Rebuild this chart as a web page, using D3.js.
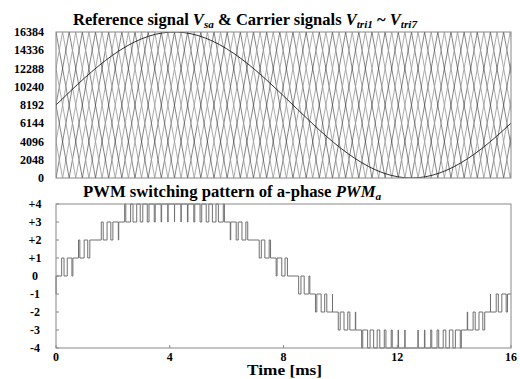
<!DOCTYPE html>
<html><head><meta charset="utf-8">
<script src="https://cdn.jsdelivr.net/npm/d3@7"></script>
<style>
body{margin:0;background:#fff}
svg{display:block}
</style>
</head><body><svg id="c" width="520" height="379" font-family="'Liberation Serif', 'Times New Roman', Times, serif" font-weight="bold"></svg>
<script>
// ---- data ----
const refTimeMs = [0,0.5,1,1.5,2,2.5,3,3.5,4,4.5,5,5.5,6,6.5,7,7.5,8,8.5,9,9.5,10,10.5,11,11.5,12,12.5,13,13.5,14,14.5,15,15.5,16];
const refValue  = [8192,9727,11208,12581,13799,14819,15604,16127,16368,16319,15983,15371,14504,13414,12139,10723,9219,7678,6155,4704,3377,2220,1275,575,145,0,145,575,1275,2220,3377,4704,6155];
const carrierCount = 8;            // phase-shifted triangular carriers
const carrierFreqHz = 540;         // carrier frequency
const carrierMin = 0, carrierMax = 16384;
const carrierColors = ["#333333","#a0a0a0"];
const topTicks = [0,2048,4096,6144,8192,10240,12288,14336,16384];
const pwmLevels = [-4,-3,-2,-1,0,1,2,3,4];
const pwmTickLabels = ["-4","-3","-2","-1","0","+1","+2","+3","+4"];
const timeTicks = [0,4,8,12,16];
const timeDomain = [0,16];

// ---- layout ----
const svg = d3.select("#c");
const X0 = 56, X1 = 511;
const pTop = {y0:32, y1:178}, pBot = {y0:204, y1:348};
const x = d3.scaleLinear().domain(timeDomain).range([X0,X1]);
const yTop = d3.scaleLinear().domain([carrierMin,carrierMax]).range([pTop.y1,pTop.y0]);
const yBot = d3.scaleLinear().domain([-4,4]).range([pBot.y1,pBot.y0]);

svg.append("defs").append("clipPath").attr("id","clipTop")
  .append("rect").attr("x",X0).attr("y",pTop.y0).attr("width",X1-X0).attr("height",pTop.y1-pTop.y0);

// ---- carriers ----
const T = 1000/carrierFreqHz; // ms
function carrierVertices(k){
  const ph = k*T/carrierCount;
  const pts = [];
  for(let n=-2; ph + n*T <= timeDomain[1] + T; n++){
    pts.push([ph + n*T, carrierMax]);
    pts.push([ph + n*T + T/2, carrierMin]);
  }
  return pts;
}
function carrierAt(k,t){
  const ph = k*T/carrierCount;
  let u = ((t - ph)/T) % 1; if(u<0) u+=1;
  const f = u < 0.5 ? 1 - 2*u : 2*u - 1;
  return carrierMin + f*(carrierMax-carrierMin);
}
const line = d3.line().x(d=>x(d[0])).y(d=>yTop(d[1]));
const gCar = svg.append("g").attr("clip-path","url(#clipTop)");
d3.range(carrierCount).forEach(k=>{
  gCar.append("path").attr("d",line(carrierVertices(k)))
    .attr("fill","none").attr("stroke",carrierColors[k%2])
    .attr("stroke-width",k%2 ? 0.9 : 0.6);
});
gCar.append("path")
  .attr("d", d3.line().x((d,i)=>x(refTimeMs[i])).y(d=>yTop(d)).curve(d3.curveNatural)(refValue))
  .attr("fill","none").attr("stroke","#1a1a1a").attr("stroke-width",0.9);

svg.append("rect").attr("x",X0).attr("y",pTop.y0).attr("width",X1-X0).attr("height",pTop.y1-pTop.y0)
  .attr("fill","none").attr("stroke","#888").attr("stroke-width",1);

svg.append("g").selectAll("text").data(topTicks).join("text")
  .attr("x",44).attr("y",d=>yTop(d)).attr("dy","0.35em").attr("text-anchor","end")
  .attr("font-size",12).text(d=>d);

// ---- PWM output (comparison of reference and carriers) ----
const refAt = d3.scaleLinear().domain(refTimeMs).range(refValue);
const dt = 0.002;
const pwm = [];
let prev = null;
for(let t=0; t<=timeDomain[1]+1e-9; t+=dt){
  const r = refAt(t);
  let c = 0;
  for(let k=0;k<carrierCount;k++) if(r > carrierAt(k,t)) c++;
  const lv = c - carrierCount/2;
  if(lv !== prev){ pwm.push([t,lv]); prev = lv; }
}
pwm.push([timeDomain[1], prev]);
svg.append("path")
  .attr("d", d3.line().x(d=>x(d[0])).y(d=>yBot(d[1])).curve(d3.curveStepAfter)(pwm))
  .attr("fill","none").attr("stroke","#707070").attr("stroke-width",1);

svg.append("rect").attr("x",X0).attr("y",pBot.y0).attr("width",X1-X0).attr("height",pBot.y1-pBot.y0)
  .attr("fill","none").attr("stroke","#888").attr("stroke-width",1);

const gb = svg.append("g");
gb.selectAll("line.yt").data(pwmLevels).join("line").attr("class","yt")
  .attr("x1",X0).attr("x2",X0+3).attr("y1",d=>yBot(d)).attr("y2",d=>yBot(d))
  .attr("stroke","#888");
gb.selectAll("text.yl").data(pwmLevels).join("text").attr("class","yl")
  .attr("x",35).attr("y",d=>yBot(d)).attr("dy","0.35em").attr("text-anchor","middle")
  .attr("font-size",12).text((d,i)=>pwmTickLabels[i]);
gb.selectAll("line.xt").data(timeTicks).join("line").attr("class","xt")
  .attr("x1",d=>x(d)).attr("x2",d=>x(d)).attr("y1",pBot.y1).attr("y2",pBot.y1-3)
  .attr("stroke","#888");
gb.selectAll("text.xl").data(timeTicks).join("text").attr("class","xl")
  .attr("x",d=>x(d)).attr("y",361).attr("text-anchor","middle")
  .attr("font-size",12).text(d=>d);

svg.append("text").attr("x",247).attr("y",375)
  .attr("font-size",14).attr("textLength",75).attr("lengthAdjust","spacingAndGlyphs").text("Time [ms]");

// ---- titles (font size fitted to the reference's text width) ----
function title(xs, ys, parts, targetW){
  const fs0 = 16;
  const el = svg.append("text").attr("x",xs).attr("y",ys);
  function build(fs){
    el.selectAll("*").remove();
    el.attr("font-size",fs);
    parts.forEach(p=>{
      const ts = el.append("tspan").text(p.t);
      if(p.i) ts.attr("font-style","italic");
      if(p.sub) ts.attr("font-size",fs*0.68).attr("dy",fs*0.2);
      if(p.up) ts.attr("dy",-fs*0.2);
    });
  }
  build(fs0);
  const w = el.node().getBBox().width;
  build(fs0*targetW/w);
}
title(73, 25, [
  {t:"Reference signal "},{t:"V",i:1},{t:"sa",i:1,sub:1},
  {t:" & Carrier signals ",up:1},{t:"V",i:1},{t:"tri1",i:1,sub:1},
  {t:" ~ ",up:1},{t:"V",i:1},{t:"tri7",i:1,sub:1}], 345);
title(83, 197, [
  {t:"PWM switching pattern of a-phase "},{t:"PWM",i:1},{t:"a",i:1,sub:1}], 299);
</script>
</body></html>
